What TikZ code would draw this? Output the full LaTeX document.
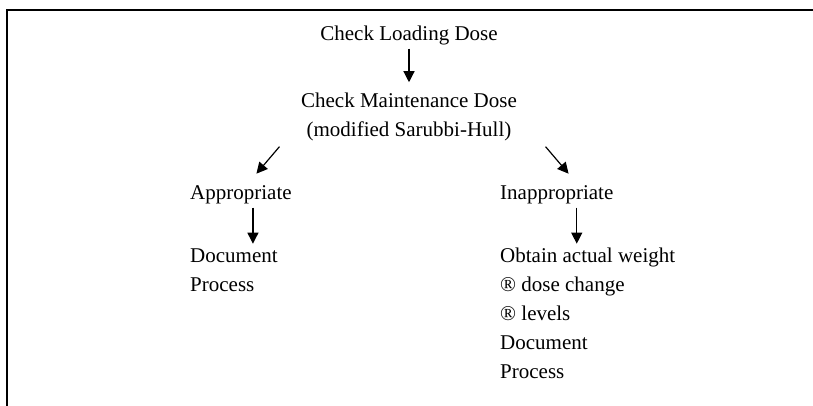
\documentclass[tikz,border=0pt]{standalone}
\usepackage{fontspec}
\setmainfont{Liberation Serif}
\usetikzlibrary{arrows.meta}

\begin{document}
\begin{tikzpicture}[x=1pt, y=1pt, inner sep=0pt,
  font=\fontsize{21}{29}\selectfont,
  arr/.style={line width=1.2pt, -{Triangle[length=11pt,width=11pt]}}]

\useasboundingbox (0,0) rectangle (813,-406);
\draw[line width=2.5pt] (7,-406) -- (7,-10) -- (813,-10);

\node[anchor=base] (load) at (409,-41) {Check Loading Dose};
\node[anchor=base] (maint) at (409,-108) {Check Maintenance Dose};
\node[anchor=base] (mod) at (409,-137) {(modified Sarubbi-Hull)};

\node[anchor=base west] (appr) at (190,-200) {Appropriate};
\node[anchor=base west] (inappr) at (500,-200) {Inappropriate};

\node[anchor=base west] (l1) at (190,-262) {Document};
\node[anchor=base west] (l2) at (190,-291) {Process};

\node[anchor=base west] (r1) at (500,-262) {Obtain actual weight};
\node[anchor=base west] (r2) at (500,-291) {® dose change};
\node[anchor=base west] (r3) at (500,-320) {® levels};
\node[anchor=base west] (r4) at (500,-349) {Document};
\node[anchor=base west] (r5) at (500,-378) {Process};

\draw[arr, shorten <=3pt, shorten >=11pt] (load.south) -- (maint.north);
\draw[arr] ([xshift=-27pt,yshift=-5pt]mod.south west) -- ++(-23,-27);
\draw[arr] ([xshift=34pt,yshift=-5pt]mod.south east) -- ++(23,-27);
\draw[arr] ([xshift=12pt,yshift=-3pt]appr.south) -- ++(0,-36);
\draw[arr] ([xshift=20pt,yshift=-3pt]inappr.south) -- ++(0,-36);

\end{tikzpicture}
\end{document}
